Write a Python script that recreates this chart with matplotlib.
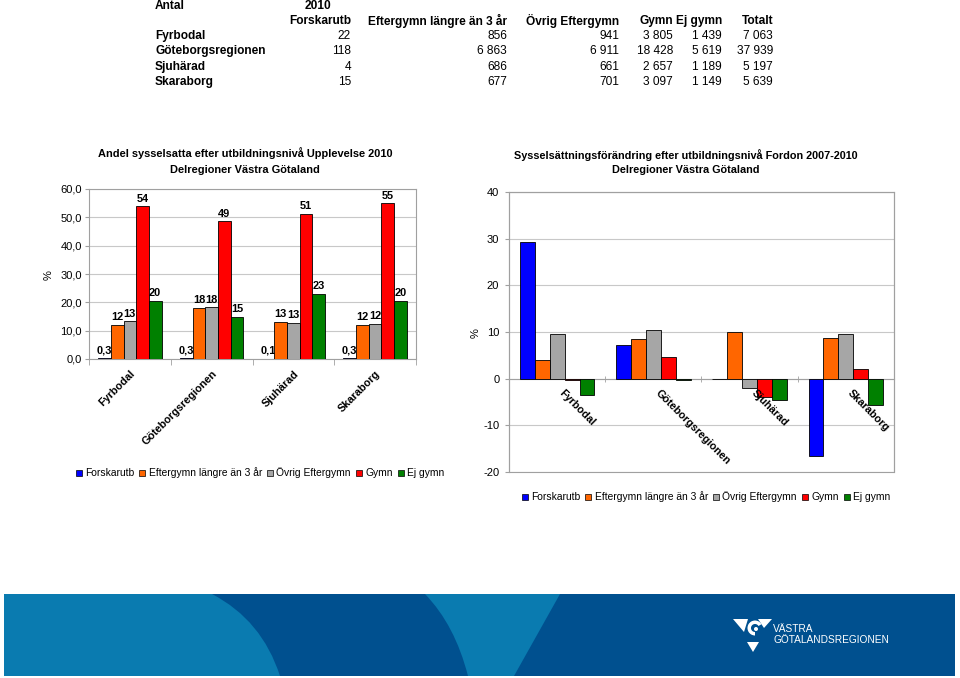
# -*- coding: utf-8 -*-
"""Andel sysselsatta / sysselsättningsförändring per delregion, Västra Götaland."""

import matplotlib
matplotlib.use("Agg")
import matplotlib.pyplot as plt
import numpy as np
from matplotlib.patches import Patch, Polygon, PathPatch, Rectangle, Wedge, Circle
from matplotlib.path import Path
from matplotlib.transforms import ScaledTranslation

plt.rcParams["font.family"] = ["Liberation Sans", "DejaVu Sans"]

regions = ["Fyrbodal", "Göteborgsregionen", "Sjuhärad", "Skaraborg"]
levels = ["Forskarutb", "Eftergymn längre än 3 år", "Övrig Eftergymn", "Gymn", "Ej gymn"]
level_colors = ["#0000FF", "#FF6600", "#A6A6A6", "#FF0000", "#008000"]

# table "Antal 2010"
tab_forskarutb = [22, 118, 4, 15]
tab_eftergymn_lang = [856, 6863, 686, 677]
tab_ovrig = [941, 6911, 661, 701]
tab_gymn = [3805, 18428, 2657, 3097]
tab_ej_gymn = [1439, 5619, 1189, 1149]
tab_totalt = [7063, 37939, 5197, 5639]

# left chart: share employed, Upplevelse 2010 (%)
share_forskarutb = [0.3, 0.3, 0.1, 0.3]
share_eftergymn_lang = [12.1, 18.1, 13.2, 12.0]
share_ovrig = [13.3, 18.2, 12.7, 12.4]
share_gymn = [53.9, 48.6, 51.1, 54.9]
share_ej_gymn = [20.4, 14.8, 22.9, 20.4]

# right chart: change in employment, Fordon 2007-2010 (%)
chg_forskarutb = [29.3, 7.2, 0.0, -16.6]
chg_eftergymn_lang = [3.9, 8.6, 9.9, 8.7]
chg_ovrig = [9.6, 10.5, -2.0, 9.6]
chg_gymn = [-0.3, 4.7, -4.0, 2.0]
chg_ej_gymn = [-3.6, -0.3, -4.6, -5.6]

W, H = 960, 678
fig = plt.figure(figsize=(W / 100, H / 100), dpi=100)
fig.patch.set_facecolor("white")

# background axes in pixel coordinates for table, titles and footer
bg = fig.add_axes([0, 0, 1, 1])
bg.set_xlim(0, W)
bg.set_ylim(H, 0)
bg.axis("off")


def fmt_thousands(v):
    return f"{v:,}".replace(",", " ")


# ---- table
tfs = 8.6
bg.text(155, 6, "Antal", fontsize=tfs, weight="bold", va="center", ha="left")
bg.text(305, 6, "2010", fontsize=tfs, weight="bold", va="center", ha="left")
col_right = [351, 507, 619, 673, 722, 773]
headers = levels + ["Totalt"]
for xr, h in zip(col_right, headers):
    bg.text(xr, 21, h, fontsize=tfs, weight="bold", va="center", ha="right")
cols = [tab_forskarutb, tab_eftergymn_lang, tab_ovrig, tab_gymn, tab_ej_gymn, tab_totalt]
row_y = [36, 51, 67, 82]
for i, (reg, y) in enumerate(zip(regions, row_y)):
    bg.text(155, y, reg, fontsize=tfs, weight="bold", va="center", ha="left")
    for xr, col in zip(col_right, cols):
        bg.text(xr, y, fmt_thousands(col[i]), fontsize=tfs, va="center", ha="right")

# ---- chart titles
ttl = 7.9
bg.text(245, 153, "Andel sysselsatta efter utbildningsnivå Upplevelse 2010", fontsize=ttl,
        weight="bold", ha="center", va="center")
bg.text(245, 170, "Delregioner Västra Götaland", fontsize=ttl, weight="bold", ha="center", va="center")
bg.text(686, 155, "Sysselsättningsförändring efter utbildningsnivå Fordon 2007-2010", fontsize=7.8,
        weight="bold", ha="center", va="center")
bg.text(686, 170, "Delregioner Västra Götaland", fontsize=7.8, weight="bold", ha="center", va="center")
bg.text(49, 275, "%", fontsize=8, rotation=90, ha="center", va="center")
bg.text(476, 333, "%", fontsize=8, rotation=90, ha="center", va="center")

# ---- footer band
bg.add_patch(Rectangle((4, 594), 951, 82, facecolor="#0A7BB0", edgecolor="none"))
dark = "#00508F"
curve1 = [(212, 594), (262, 620), (280, 676)]
curve2 = [(468, 676), (455, 625), (425, 594)]
verts = [curve1[0], curve1[1], curve1[2], curve2[0], curve2[1], curve2[2], curve1[0]]
codes = [Path.MOVETO, Path.CURVE3, Path.CURVE3, Path.LINETO, Path.CURVE3, Path.CURVE3, Path.CLOSEPOLY]
bg.add_patch(PathPatch(Path(verts, codes), facecolor=dark, edgecolor="none"))
bg.add_patch(Polygon([(560, 594), (955, 594), (955, 676), (514, 676)], closed=True,
                     facecolor=dark, edgecolor="none"))

# logo
bg.add_patch(Polygon([(733, 619), (748, 619), (744, 632)], closed=True, facecolor="white", edgecolor="none"))
bg.add_patch(Polygon([(758, 619), (772, 619), (764, 628)], closed=True, facecolor="white", edgecolor="none"))
bg.add_patch(Polygon([(747, 642), (759, 642), (753, 652)], closed=True, facecolor="white", edgecolor="none"))
bg.add_patch(Wedge((755, 628), 7.5, 90, 330, width=3.5, facecolor="white", edgecolor="none"))
bg.add_patch(Circle((756, 629), 2.0, facecolor="white", edgecolor="none"))
bg.text(773, 629, "VÄSTRA", fontsize=7.3, color="white", ha="left", va="center")
bg.text(773, 640, "GÖTALANDSREGIONEN", fontsize=7.3, color="white", ha="left", va="center")

x = np.arange(len(regions))
bw = 0.155
offsets = (np.arange(5) - 2) * bw
grid_c = "#C8C8C8"
frame_c = "#A0A0A0"

# ---- left chart
ax1 = fig.add_axes([89 / W, 1 - 359 / H, 327 / W, 170 / H])
shares = [share_forskarutb, share_eftergymn_lang, share_ovrig, share_gymn, share_ej_gymn]
for k, (vals, c) in enumerate(zip(shares, level_colors)):
    bars = ax1.bar(x + offsets[k], vals, width=bw, color=c, edgecolor="black", linewidth=0.6, zorder=3)
    labels = [f"{v:.1f}".replace(".", ",") if v < 1 else f"{v:.0f}" for v in vals]
    ax1.bar_label(bars, labels=labels, padding=2, fontsize=7.9, weight="bold")
ax1.set_xlim(-0.5, 3.5)
ax1.set_ylim(0, 60)
ax1.set_yticks(np.arange(0, 61, 10))
ax1.set_yticklabels([f"{v:.1f}".replace(".", ",") for v in np.arange(0, 61, 10)], fontsize=8)
ax1.yaxis.grid(True, color=grid_c, linewidth=0.8, zorder=0)
ax1.set_xticks(x)
ax1.set_xticklabels(regions, rotation=45, ha="right", va="top", rotation_mode="anchor",
                    fontsize=7.8, weight="bold")
shift = ScaledTranslation(-5 / 100, 0, fig.dpi_scale_trans)
for lab in ax1.get_xticklabels():
    lab.set_transform(lab.get_transform() + shift)
ax1.set_xticks(np.arange(-0.5, 4, 1), minor=True)
ax1.tick_params(axis="x", which="major", length=0, pad=7)
ax1.tick_params(axis="x", which="minor", length=4, color=frame_c)
ax1.tick_params(axis="y", length=3, color=frame_c, pad=2)
for s in ax1.spines.values():
    s.set_color(frame_c)
    s.set_linewidth(0.8)

# ---- right chart
ax2 = fig.add_axes([509 / W, 1 - 472 / H, 385 / W, 280 / H])
changes = [chg_forskarutb, chg_eftergymn_lang, chg_ovrig, chg_gymn, chg_ej_gymn]
for k, (vals, c) in enumerate(zip(changes, level_colors)):
    ax2.bar(x + offsets[k], vals, width=bw, color=c, edgecolor="black", linewidth=0.6, zorder=3)
ax2.set_xlim(-0.5, 3.5)
ax2.set_ylim(-20, 40)
ax2.set_yticks(np.arange(-20, 41, 10))
ax2.set_yticklabels([f"{v}" for v in range(-20, 41, 10)], fontsize=8)
ax2.yaxis.grid(True, color=grid_c, linewidth=0.8, zorder=0)
ax2.spines["bottom"].set_position(("data", 0))
ax2.set_xticks([])
ax2.set_xticks(np.arange(-0.5, 4, 1), minor=True)
ax2.tick_params(axis="x", which="minor", length=5, direction="inout", color=frame_c)
ax2.tick_params(axis="y", length=3, color=frame_c, pad=4)
for s in ax2.spines.values():
    s.set_color(frame_c)
    s.set_linewidth(0.8)
ax2.add_patch(Rectangle((0, 0), 1, 1, transform=ax2.transAxes, fill=False,
                        edgecolor=frame_c, linewidth=0.8, zorder=4, clip_on=False))
for i, reg in enumerate(regions):
    ax2.annotate(reg, (i, 0), xytext=(0, -7), textcoords="offset points", rotation=-45,
                 ha="left", va="top", fontsize=7.8, weight="bold")

# ---- legends
handles = [Patch(facecolor=c, edgecolor="black", linewidth=0.5) for c in level_colors]
for cx, cy in [(260, 473), (706, 497)]:
    fig.legend(handles, levels, loc="center", bbox_to_anchor=(cx / W, 1 - cy / H), ncol=5,
               frameon=False, fontsize=7.4, handlelength=0.6, handleheight=0.6,
               handletextpad=0.3, columnspacing=0.5, borderaxespad=0)

fig.savefig("out.png", dpi=100, facecolor="white")
